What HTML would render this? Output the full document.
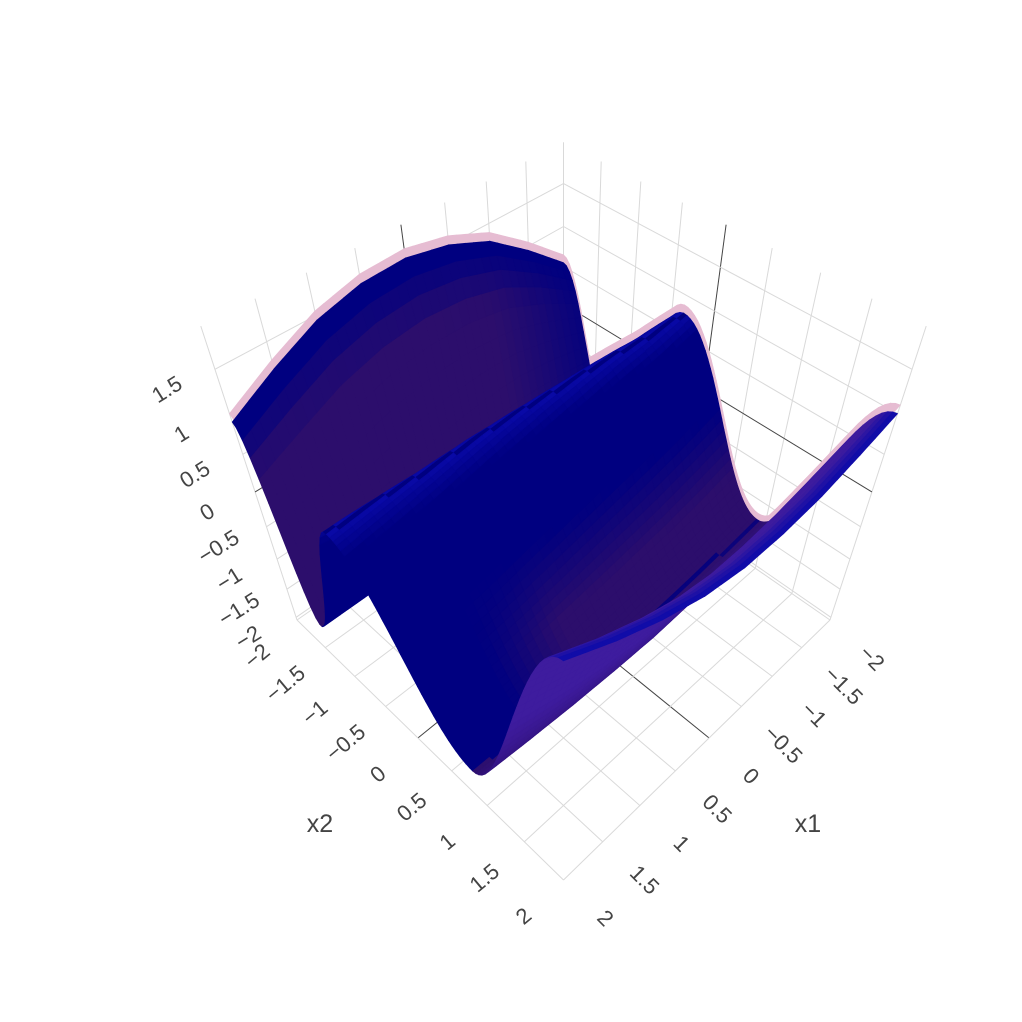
<!DOCTYPE html>
<html><head><meta charset="utf-8"><style>
html,body{margin:0;padding:0;background:#fff;}
svg{display:block;font-family:"Liberation Sans",sans-serif;}
</style></head><body>
<svg id="chart" width="1022" height="1022" viewBox="0 0 1022 1022" xmlns="http://www.w3.org/2000/svg">
<g id="grid"></g>
<g id="surf"></g>
<g id="labels"></g>
<text x="320" y="832" font-size="25" fill="#444" text-anchor="middle">x2</text>
<text x="808" y="832" font-size="25" fill="#444" text-anchor="middle">x1</text>
</svg>
<script>
// ---- data: surface profile features for each x1 row ----
const x1Rows     = [-2,-1.5,-1,-0.5,0,0.5,1,1.5,2];
const edgeLeftZ  = [0.55,0.95,1.3,1.5,1.6,1.58,1.45,1.2,0.9];    // z at x2 = -2
const valley1X2  = [-1.3,-1.32,-1.34,-1.36,-1.38,-1.4,-1.42,-1.44,-1.45];
const valley1Z   = [-1.3,-1.35,-1.4,-1.45,-1.5,-1.52,-1.55,-1.58,-1.6];
const ridgeX2    = [-0.35,-0.41,-0.47,-0.53,-0.59,-0.65,-0.71,-0.77,-0.82];
const ridgeZ     = [0.78,0.72,0.7,0.66,0.62,0.57,0.5,0.45,0.4];
const valley2X2  = [0.9,0.89,0.88,0.88,0.88,0.87,0.86,0.85,0.84];
const valley2Z   = [-1.3,-1.38,-1.45,-1.5,-1.55,-1.58,-1.6,-1.6,-1.58];
const edgeRightZ = [1.0,0.85,0.72,0.66,0.66,0.76,0.95,1.2,1.5];  // z at x2 = 2
const zTicks = [-2,-1.5,-1,-0.5,0,0.5,1,1.5];
const xTicks = [-2,-1.5,-1,-0.5,0,0.5,1,1.5,2];
const zMin = -2.05, zMax = 1.95;

// ---- projection ----
const NS="http://www.w3.org/2000/svg";
const eye=[2.3,2.3,3.6];
function norm(v){const l=Math.hypot(v[0],v[1],v[2]);return [v[0]/l,v[1]/l,v[2]/l];}
function cross(a,b){return [a[1]*b[2]-a[2]*b[1],a[2]*b[0]-a[0]*b[2],a[0]*b[1]-a[1]*b[0]];}
function dot(a,b){return a[0]*b[0]+a[1]*b[1]+a[2]*b[2];}
const f=norm([-eye[0],-eye[1],-eye[2]]);
const r=norm(cross(f,[0,0,1]));
const u=cross(r,f);
function raw(x1,x2,z){
  const P=[x1/2,x2/2,(z-(zMin+zMax)/2)/((zMax-zMin)/2)];
  const d=[P[0]-eye[0],P[1]-eye[1],P[2]-eye[2]];
  const cz=dot(d,f);
  return [dot(d,r)/cz,-dot(d,u)/cz,cz];
}
const L=raw(2,-2,zMin),R=raw(-2,2,zMin),F=raw(2,2,zMin);
const sx=(830-297)/(R[0]-L[0]);
const tx=297-L[0]*sx;
const sy=(880-620)/(F[1]-L[1]);
const ty=620-L[1]*sy;
function proj(x1,x2,z){const p=raw(x1,x2,z);return [p[0]*sx+tx,p[1]*sy+ty,p[2]];}

function line(g,a,b,col,w,name){
  const e=document.createElementNS(NS,'line');
  e.setAttribute('x1',a[0].toFixed(1));e.setAttribute('y1',a[1].toFixed(1));
  e.setAttribute('x2',b[0].toFixed(1));e.setAttribute('y2',b[1].toFixed(1));
  e.setAttribute('stroke',col);e.setAttribute('stroke-width',w);
  
  
  g.appendChild(e);
}
const grid=document.getElementById('grid');
const gc='#d9d9d9', zc='#444';
xTicks.forEach(t=>{
  line(grid,proj(t,-2,zMin),proj(t,2,zMin),t===0?zc:gc,1,'floor-gridline');
  line(grid,proj(-2,t,zMin),proj(2,t,zMin),t===0?zc:gc,1,'floor-gridline');
  line(grid,proj(-2,t,zMin),proj(-2,t,zMax),t===0?zc:gc,1,'wall-gridline');
  line(grid,proj(t,-2,zMin),proj(t,-2,zMax),t===0?zc:gc,1,'wall-gridline');
});
zTicks.forEach(t=>{
  line(grid,proj(-2,-2,t),proj(-2,2,t),t===0?zc:gc,1,'wall-gridline');
  line(grid,proj(-2,-2,t),proj(2,-2,t),t===0?zc:gc,1,'wall-gridline');
});

// ---- surface evaluation from feature arrays ----
function interpRow(arr,x1){
  const n=x1Rows.length;
  let i=0; while(i<n-2 && x1>x1Rows[i+1]) i++;
  const t=(x1-x1Rows[i])/(x1Rows[i+1]-x1Rows[i]);
  return arr[i]+(arr[i+1]-arr[i])*t;
}
function evalZ(x1,x2){
  const xs=[-2,interpRow(valley1X2,x1),interpRow(ridgeX2,x1),interpRow(valley2X2,x1),2];
  const zs=[interpRow(edgeLeftZ,x1),interpRow(valley1Z,x1),interpRow(ridgeZ,x1),interpRow(valley2Z,x1),interpRow(edgeRightZ,x1)];
  let s=0; while(s<3 && x2>xs[s+1]) s++;
  const t=Math.max(0,Math.min(1,(x2-xs[s])/(xs[s+1]-xs[s])));
  const h=(1-Math.cos(Math.PI*t))/2;
  return {z:zs[s]+(zs[s+1]-zs[s])*h,seg:s,t};
}
const NR=40, NC=90;
const pts=[];
for(let i=0;i<=NR;i++){pts.push([]);for(let j=0;j<=NC;j++){
  const x1=-2+4*i/NR, x2=-2+4*j/NC;
  const e=evalZ(x1,x2);
  pts[i].push({x1,x2,z:e.z,seg:e.seg,t:e.t});
}}
function cl(v){return Math.max(0,Math.min(1,v));}
function mix(a,b,t){t=cl(t);return a.map((v,k)=>Math.round(v+(b[k]-v)*t));}
const navy=[0,0,128], dpurple=[44,14,108], blueB=[10,10,170], lpurple=[62,28,158];
function colorFor(seg,t,x1){
  if(seg===0){const k=cl((t-0.12)/0.2)*cl((x1+2.2)/1.4);return mix(navy,dpurple,k);}
  if(seg===1){return t>0.75?mix(navy,blueB,(t-0.75)/0.25):navy;}
  if(seg===2){
    if(t<0.15) return mix(blueB,navy,t/0.15);
    return mix(navy,dpurple,cl((t-0.45)/0.25)*cl((1.3-x1)/0.8));
  }
  return t>0.85?mix(lpurple,blueB,(t-0.85)/0.15):mix(dpurple,lpurple,t/0.5);
}
const pink=[], blue=[];
for(let i=0;i<NR;i++)for(let j=0;j<NC;j++){
  const a=pts[i][j],b=pts[i][j+1],c=pts[i+1][j+1],d=pts[i+1][j];
  const col=colorFor(a.seg,(a.t+b.t)/2,(a.x1+d.x1)/2);
  const PB=[a,b,c,d].map(p=>proj(p.x1,p.x2,p.z));
  const PP=[a,b,c,d].map(p=>proj(p.x1,p.x2,p.z+0.1));
  blue.push({P:PB,depth:(PB[0][2]+PB[1][2]+PB[2][2]+PB[3][2])/4,col});
  pink.push({P:PP,depth:(PP[0][2]+PP[1][2]+PP[2][2]+PP[3][2])/4});
}
pink.sort((p,q)=>q.depth-p.depth);
blue.sort((p,q)=>q.depth-p.depth);
const surf=document.getElementById('surf');
pink.forEach(q=>{
  const e=document.createElementNS(NS,'polygon');
  e.setAttribute('points',q.P.map(p=>p[0].toFixed(1)+','+p[1].toFixed(1)).join(' '));
  e.setAttribute('fill','rgb(230,188,210)');e.setAttribute('stroke','rgb(230,188,210)');e.setAttribute('stroke-width','0.6');
  
  
  surf.appendChild(e);
});
blue.forEach(q=>{
  const e=document.createElementNS(NS,'polygon');
  e.setAttribute('points',q.P.map(p=>p[0].toFixed(1)+','+p[1].toFixed(1)).join(' '));
  const c='rgb('+q.col.join(',')+')';
  e.setAttribute('fill',c);e.setAttribute('stroke',c);e.setAttribute('stroke-width','0.7');
  
  
  surf.appendChild(e);
});

// ---- labels ----
const lab=document.getElementById('labels');
function txt(x,y,s,rot,anchor,name){
  const e=document.createElementNS(NS,'text');
  e.setAttribute('x',x.toFixed(1));e.setAttribute('y',y.toFixed(1));
  e.setAttribute('font-size','22');e.setAttribute('fill','#444');
  e.setAttribute('text-anchor',anchor);
  e.setAttribute('dominant-baseline','central');
  e.setAttribute('transform','rotate('+rot+' '+x.toFixed(1)+' '+y.toFixed(1)+')');
  e.textContent=s;
  
  
  lab.appendChild(e);
}
function fmt(v){return (v<0?'\u2212':'')+Math.abs(v);}
zTicks.forEach(t=>{const p=proj(2,-2,t);txt(p[0]-48,p[1]+20,fmt(t),-32,'middle','z-tick-label');});
xTicks.forEach(t=>{const p=proj(2,t,zMin);txt(p[0]-40,p[1]+36,fmt(t),-40,'middle','x2-tick-label');});
xTicks.forEach(t=>{const p=proj(t,2,zMin);txt(p[0]+42,p[1]+38,fmt(t),45,'middle','x1-tick-label');});
</script>
</body></html>
